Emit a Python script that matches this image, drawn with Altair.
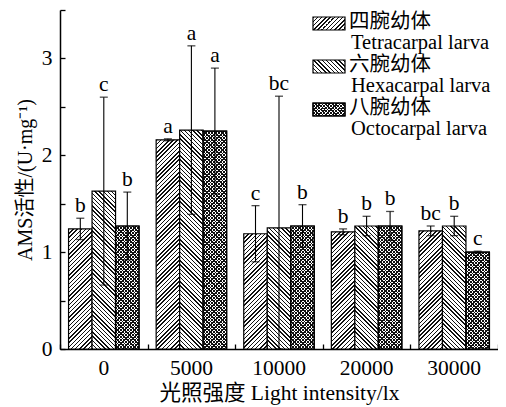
import altair as alt

# ---------------- data ----------------
groups = ["0", "5000", "10000", "20000", "30000"]
series = ["Tetracarpal", "Hexacarpal", "Octocarpal"]
legend_cn = ["四腕幼体", "六腕幼体", "八腕幼体"]
legend_en = ["Tetracarpal larva", "Hexacarpal larva", "Octocarpal larva"]

tetra = [1.24, 2.16, 1.19, 1.21, 1.22]
tetra_err = [0.11, 0.01, 0.29, 0.03, 0.05]
tetra_lab = ["b", "a", "c", "b", "bc"]

hexa = [1.63, 2.26, 1.25, 1.27, 1.27]
hexa_err = [0.97, 0.87, 1.36, 0.10, 0.10]
hexa_lab = ["c", "a", "bc", "b", "b"]

octo = [1.27, 2.25, 1.27, 1.27, 1.00]
octo_err = [0.35, 0.65, 0.22, 0.15, 0.01]
octo_lab = ["b", "a", "b", "b", "c"]

# ---------------- layout constants ----------------
W, H = 438, 339
YMAX = 3.5
PAD_OUT = 0.364
FONT = "'Liberation Serif', 'Noto Sans CJK SC'"
FS = 21.5
LFS = 20.5

step = (W / len(groups)) / (3 + 2 * PAD_OUT)


def hatch(w, h, direction, period, lw, dark="#111111", light="#ffffff"):
    L = w + h
    t = L / (w * w + h * h)
    if direction == "/":
        x1, y1, x2, y2 = 0, 0, t * w, t * h
    else:
        x1, y1, x2, y2 = 0, 1, t * w, 1 - t * h
    stops = []
    k = 0
    while k * period < L:
        a = k * period / L
        b = min((k * period + lw) / L, 1.0)
        stops.append({"offset": a, "color": dark})
        stops.append({"offset": b, "color": dark})
        stops.append({"offset": b, "color": light})
        nxt = min((k + 1) * period / L, 1.0)
        stops.append({"offset": nxt, "color": light})
        k += 1
    return {"gradient": "linear", "x1": x1, "y1": y1, "x2": x2, "y2": y2, "stops": stops}


STYLE = {
    "Tetracarpal": ("/", 4.2, 1.5),
    "Hexacarpal": ("\\", 4.2, 1.5),
    "Octocarpal": ("/", 3.4, 1.4),
}


def fills(name, w, h):
    d, p, lw = STYLE[name]
    g = hatch(w, h, d, p, lw)
    if name == "Octocarpal":
        g2 = hatch(w, h, "\\", p, lw, dark="#111111", light="rgba(255,255,255,0)")
    else:
        g2 = "rgba(0,0,0,0)"
    return g, g2


rows = []
for s, vals, errs, labs in [
    ("Tetracarpal", tetra, tetra_err, tetra_lab),
    ("Hexacarpal", hexa, hexa_err, hexa_lab),
    ("Octocarpal", octo, octo_err, octo_lab),
]:
    for grp, v, e, lab in zip(groups, vals, errs, labs):
        g, g2 = fills(s, step, v * H / YMAX)
        rows.append({
            "group": grp, "series": s, "value": v,
            "lo": max(0.0, v - e), "hi": v + e, "label": lab,
            "g": g, "g2": g2,
        })

data = alt.Data(values=rows)

xoff = alt.XOffset("series:N", sort=series,
                   scale=alt.Scale(paddingInner=0, paddingOuter=PAD_OUT))
yscale = alt.Scale(domain=[0, YMAX], nice=False)

base = alt.Chart(data)

bars = base.mark_bar(stroke="black", strokeWidth=1.2).encode(
    x=alt.X("group:N", sort=groups,
            scale=alt.Scale(paddingInner=0, paddingOuter=0),
            axis=alt.Axis(title="光照强度 Light intensity/lx", labelAngle=0,
                          ticks=False, domainColor="black", domainWidth=1.5,
                          labelPadding=8, titlePadding=4)),
    xOffset=xoff,
    y=alt.Y("value:Q", scale=yscale,
            axis=alt.Axis(title="AMS活性/(U·mg⁻¹)", values=[0, 1, 2, 3],
                          ticks=False, grid=False, domainColor="black",
                          domainWidth=1.5, labelPadding=8, titlePadding=6,
                          titleFontSize=20)),
    color=alt.Color("g:N", scale=None),
)

overlay = base.mark_bar(stroke="black", strokeWidth=1.2).encode(
    x=alt.X("group:N", sort=groups, axis=None),
    xOffset=xoff,
    y=alt.Y("value:Q", axis=None),
    color=alt.Color("g2:N", scale=None),
).transform_filter(alt.datum.series == "Octocarpal")

errs = base.mark_rule(color="black", strokeWidth=1.1).encode(
    x=alt.X("group:N", sort=groups,
            axis=alt.Axis(orient="top", offset=-H, labels=False, domain=False,
                          ticks=True, tickSize=5, tickBand="extent",
                          tickColor="black", tickWidth=1.3, title=None,
                          grid=False)),
    xOffset=xoff,
    y=alt.Y("lo:Q",
            axis=alt.Axis(orient="right", offset=-W, labels=False,
                          domain=False, ticks=True, tickSize=5,
                          tickColor="black", tickWidth=1.3,
                          values=[0, 0.5, 1, 1.5, 2, 2.5, 3, 3.5],
                          title=None, grid=False)),
    y2="hi:Q",
)

cap_hi = base.mark_tick(orient="horizontal", size=8, thickness=1.3,
                        color="black").encode(
    x=alt.X("group:N", sort=groups, axis=None),
    xOffset=xoff,
    y=alt.Y("hi:Q", axis=None),
)
cap_lo = base.mark_tick(orient="horizontal", size=8, thickness=1.3,
                        color="black").encode(
    x=alt.X("group:N", sort=groups, axis=None),
    xOffset=xoff,
    y=alt.Y("lo:Q", axis=None),
)

letters = base.mark_text(font=FONT, fontSize=FS, baseline="bottom",
                         dy=-1, color="black").encode(
    x=alt.X("group:N", sort=groups, axis=None),
    xOffset=xoff,
    y=alt.Y("hi:Q", axis=None),
    text="label:N",
)

# ---------------- legend ----------------
legend_layers = []
LX, LSW, LSH, LROW = 253, 32, 13, 43
for i, s in enumerate(series):
    g, g2 = fills(s, LSW, LSH)
    y0 = 7 + LROW * i
    sw = alt.Chart(alt.Data(values=[{"k": s}])).mark_rect(
        fill=g, stroke="black", strokeWidth=1.2).encode(
        x=alt.value(LX), x2=alt.value(LX + LSW),
        y=alt.value(y0), y2=alt.value(y0 + LSH))
    legend_layers.append(sw)
    if s == "Octocarpal":
        legend_layers.append(
            alt.Chart(alt.Data(values=[{"k": s}])).mark_rect(
                fill=g2, stroke="black", strokeWidth=1.2).encode(
                x=alt.value(LX), x2=alt.value(LX + LSW),
                y=alt.value(y0), y2=alt.value(y0 + LSH)))
    legend_layers.append(
        alt.Chart(alt.Data(values=[{"t": legend_cn[i]}])).mark_text(
            font=FONT, fontSize=LFS, align="left", baseline="middle",
            color="black").encode(
            x=alt.value(LX + LSW + 4), y=alt.value(y0 + 4.5), text="t:N"))
    legend_layers.append(
        alt.Chart(alt.Data(values=[{"t": legend_en[i]}])).mark_text(
            font=FONT, fontSize=LFS, align="left", baseline="alphabetic",
            color="black").encode(
            x=alt.value(LX + LSW + 6), y=alt.value(y0 + 31.5), text="t:N"))

chart = alt.layer(bars, overlay, errs, cap_hi, cap_lo, letters,
                  *legend_layers).resolve_axis(
    x="independent", y="independent"
).properties(
    width=W, height=H,
    autosize=alt.AutoSizeParams(type="none"),
    padding={"left": 52, "top": 2, "right": 0, "bottom": 56},
).configure_view(stroke=None).configure_axis(
    labelFont=FONT, titleFont=FONT, labelFontSize=FS, titleFontSize=FS,
    labelColor="black", titleColor="black", titleFontWeight="normal",
)

chart.save("out.html", embed_options={"renderer": "svg", "actions": False})
